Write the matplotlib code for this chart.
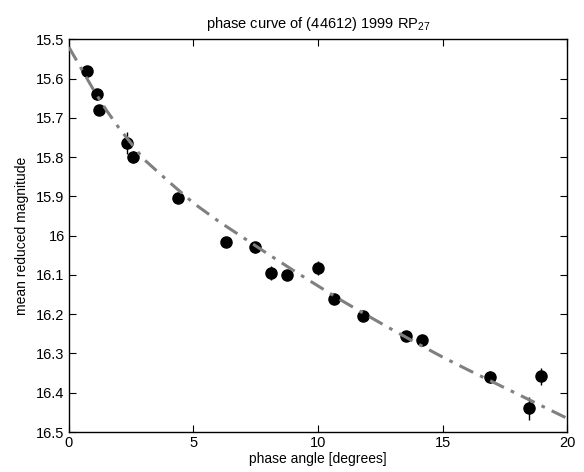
import numpy as np
import matplotlib
matplotlib.use('Agg')
import matplotlib.pyplot as plt
from matplotlib.ticker import FuncFormatter

plt.rcParams['font.family'] = ['Liberation Sans', 'DejaVu Sans']
plt.rcParams['mathtext.default'] = 'regular'

# measured points
phase = [0.72, 1.12, 1.2, 2.32, 2.56, 4.36, 6.32, 7.48, 8.12, 8.76, 10.0,
         10.64, 11.8, 13.52, 14.16, 16.92, 18.48, 18.96]
mag = [15.58, 15.64, 15.68, 15.763, 15.80, 15.905, 16.015, 16.03, 16.095, 16.10,
       16.082, 16.16, 16.205, 16.255, 16.265, 16.36, 16.44, 16.358]
mag_err = [0.008, 0.014, 0.01, 0.028, 0.015, 0.006, 0.008, 0.014, 0.018, 0.012,
           0.018, 0.008, 0.008, 0.01, 0.01, 0.015, 0.03, 0.022]

# fitted curve
fit_x = [0, 0.5, 1, 1.5, 2, 3, 4, 5, 6, 7, 8, 9, 10, 11, 12, 13, 14, 15, 16, 17, 18, 19, 20]
fit_y = [15.52, 15.575, 15.63, 15.68, 15.725, 15.805, 15.862, 15.917, 15.963, 16.005,
         16.047, 16.088, 16.128, 16.167, 16.204, 16.24, 16.275, 16.309, 16.341,
         16.372, 16.403, 16.434, 16.465]

fig = plt.figure(figsize=(5.84, 4.72), dpi=100)
ax = fig.add_axes([0.118, 0.0847, 0.853, 0.832])

ax.errorbar(phase, mag, yerr=mag_err, fmt='o', color='k', markersize=8,
            elinewidth=1, capsize=0, zorder=2)
ax.plot(fit_x, fit_y, color='0.5', linewidth=2.2, dashes=(5, 2.5, 1.2, 2.5), zorder=3)

ax.set_xlim(0, 20)
ax.set_ylim(16.5, 15.5)
ax.set_xticks([0, 5, 10, 15, 20])
ax.set_yticks(np.round(np.arange(15.5, 16.51, 0.1), 1))
ax.yaxis.set_major_formatter(FuncFormatter(lambda v, p: '%g' % round(v, 1)))
ax.tick_params(direction='in', top=True, right=True, length=5, width=0.8,
               labelsize=10.5, pad=3)
for s in ax.spines.values():
    s.set_linewidth(1.0)

ax.set_xlabel('phase angle [degrees]', fontsize=10, labelpad=1)
ax.set_ylabel('mean reduced magnitude', fontsize=10, labelpad=5)
ax.set_title('phase curve of (44612) 1999 RP$_{27}$', fontsize=10.5, pad=8)

fig.savefig('out.png', dpi=100)
